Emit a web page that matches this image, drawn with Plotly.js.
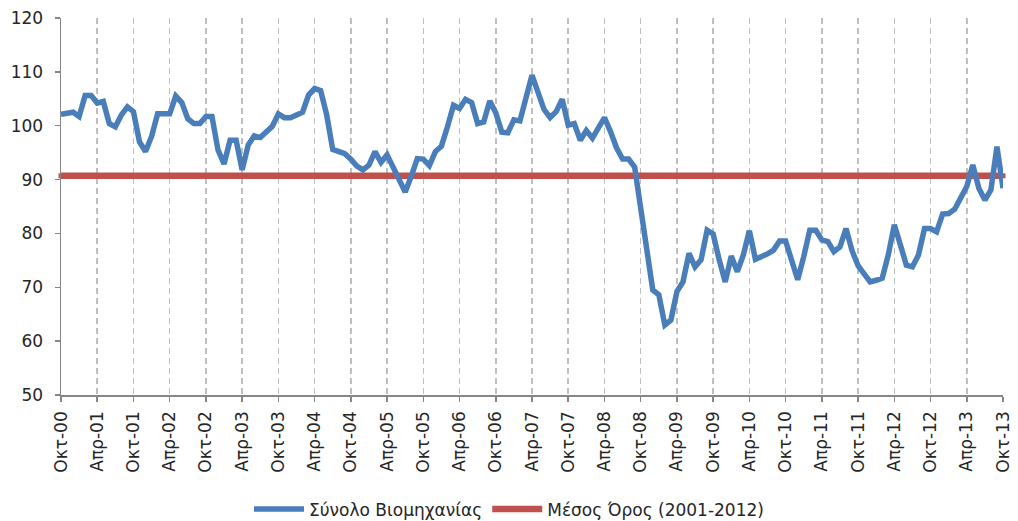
<!DOCTYPE html>
<html>
<head>
<meta charset="utf-8">
<script src="https://cdn.plot.ly/plotly-3.0.1.min.js"></script>
<style>
html,body{margin:0;padding:0;background:#fff;}
#chart{width:1018px;height:521px;}
</style>
</head>
<body>
<div id="chart"></div>
<script>
// Month names (Greek) used to build the monthly categories Oct-2000 .. Oct-2013
var monthNames = ['Ιαν','Φεβ','Μαρ','Απρ','Μαϊ','Ιουν','Ιουλ','Αυγ','Σεπ','Οκτ','Νοε','Δεκ'];
var startYear = 2000, startMonth = 9, monthCount = 157;

// Tick labels shown on the x axis (every 6 months)
var tickLabels = ['Οκτ-00','Απρ-01','Οκτ-01','Απρ-02','Οκτ-02','Απρ-03','Οκτ-03','Απρ-04','Οκτ-04',
  'Απρ-05','Οκτ-05','Απρ-06','Οκτ-06','Απρ-07','Οκτ-07','Απρ-08','Οκτ-08','Απρ-09','Οκτ-09',
  'Απρ-10','Οκτ-10','Απρ-11','Οκτ-11','Απρ-12','Οκτ-12','Απρ-13','Οκτ-13'];

// Σύνολο Βιομηχανίας – monthly values
var industryTotal = [
  102.1,102.3,102.5,101.7,105.6,105.6,104.2,104.5,100.4,99.8,102.0,103.5,
  102.6,97.0,95.2,98.0,102.2,102.2,102.2,105.5,104.3,101.3,100.4,100.4,
  101.7,101.7,95.5,92.9,97.3,97.3,91.8,96.4,98.1,97.8,98.9,99.9,
  102.2,101.5,101.5,102.0,102.5,105.7,106.9,106.5,102.0,95.6,95.2,94.8,
  93.8,92.5,91.8,92.7,95.2,93.2,94.6,92.3,89.5,87.7,90.6,93.9,
  93.8,92.6,95.2,96.2,99.8,103.8,103.2,104.9,104.3,100.4,100.7,104.6,
  102.4,98.8,98.7,101.1,100.9,104.8,109.4,106.2,103.0,101.5,102.6,104.9,
  100.1,100.4,97.3,99.1,97.7,99.6,101.5,98.9,95.9,93.8,93.8,92.3,
  84.5,77.0,69.5,68.6,63.0,63.9,69.2,71.0,76.3,73.8,75.1,80.6,
  79.9,75.1,71.0,75.8,72.9,76.0,80.5,75.2,75.6,76.2,76.9,78.6,
  78.6,75.0,71.4,75.7,80.6,80.6,78.8,78.5,76.6,77.5,80.9,76.8,
  74.0,72.5,71.0,71.3,71.7,76.0,81.6,77.9,74.1,73.8,76.0,80.9,
  80.9,80.3,83.6,83.7,84.5,86.6,88.7,92.7,88.4,86.2,88.1,96.1,
  88.4
];

// Μέσος Όρος (2001-2012)
var averageValue = 90.7;

var categories = [];
for (var k = 0; k < monthCount; k++) {
  var m = (startMonth + k) % 12;
  var y = startYear + Math.floor((startMonth + k) / 12);
  categories.push(monthNames[m] + '-' + String(y % 100).padStart(2, '0'));
}
var averageSeries = categories.map(function(){ return averageValue; });

var FONT = 'DejaVu Sans, sans-serif';

var traces = [
  {
    x: categories, y: averageSeries, type: 'scatter', mode: 'lines+markers',
    name: 'Μέσος Όρος (2001-2012)', legendrank: 2,
    line: {color: '#C0504D', width: 6.5},
    marker: {color: '#C0504D', size: 5, symbol: 'square'},
    cliponaxis: false, hoverinfo: 'skip'
  },
  {
    x: categories, y: industryTotal, type: 'scatter', mode: 'lines',
    name: 'Σύνολο Βιομηχανίας', legendrank: 1,
    line: {color: '#4A7EBB', width: 5.5},
    cliponaxis: false
  }
];

var layout = {
  width: 1018, height: 521,
  margin: {l: 61, r: 15, t: 18, b: 126, autoexpand: false},
  paper_bgcolor: '#fff', plot_bgcolor: '#fff',
  font: {family: FONT, size: 17, color: '#262626'},
  showlegend: true,
  legend: {orientation: 'h', x: 0.5, xanchor: 'center', xref: 'container',
           y: 0.022, yanchor: 'middle', yref: 'container',
           font: {family: FONT, size: 17, color: '#262626'}, traceorder: 'normal',
           itemwidth: 50},
  xaxis: {
    type: 'category', range: [0, monthCount - 1], automargin: false,
    tickmode: 'array', tickvals: tickLabels, ticktext: tickLabels,
    tickangle: -90, ticks: 'outside', ticklen: 5, tickwidth: 1.5, tickcolor: '#868686',
    showline: true, linecolor: '#868686', linewidth: 1.5,
    showgrid: true, gridcolor: '#BFBFBF', gridwidth: 1.5, griddash: '6px,4px',
    tickfont: {family: FONT, size: 17, color: '#262626'},
    ticklabelstandoff: 3, zeroline: false
  },
  yaxis: {
    range: [50, 120], tickmode: 'linear', tick0: 50, dtick: 10, automargin: false,
    showline: true, linecolor: '#868686', linewidth: 1.5,
    ticks: 'outside', ticklen: 5, tickwidth: 1.5, tickcolor: '#868686',
    showgrid: false, zeroline: false,
    tickfont: {family: FONT, size: 17, color: '#262626'},
    ticklabelstandoff: 8
  }
};

Plotly.newPlot('chart', traces, layout, {staticPlot: true, displayModeBar: false});
</script>
</body>
</html>
